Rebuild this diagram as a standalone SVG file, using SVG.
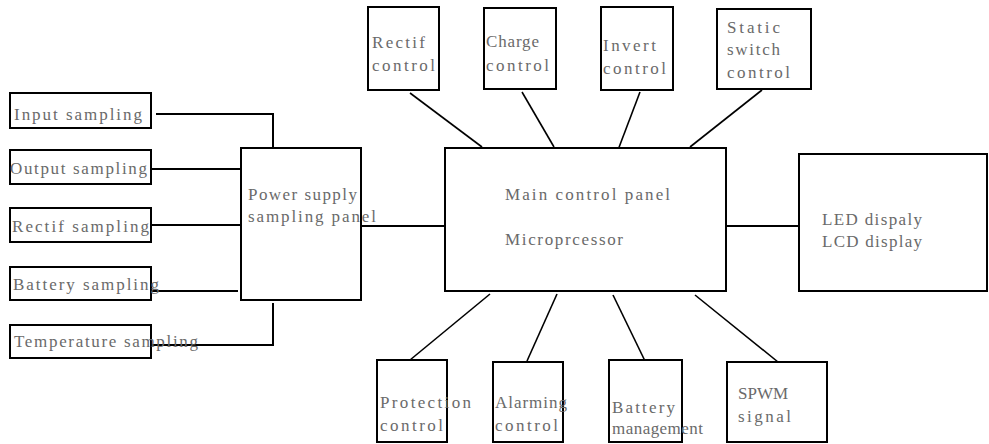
<svg xmlns="http://www.w3.org/2000/svg" width="989" height="444" viewBox="0 0 989 444">
<style>
.box{fill:#fff;stroke:#000;stroke-width:2}
.t{font-family:"Liberation Serif","DejaVu Serif",serif;font-size:17px;fill:#6a6a6a}
.c{fill:none;stroke:#000;stroke-width:2}
.d{fill:none;stroke:#000;stroke-width:1.6}
</style>
<rect width="989" height="444" fill="#fff"/>
<g id="connectors">
<polyline class="c" points="156,114 273,114 273,148"/>
<line class="c" x1="151" y1="169" x2="241" y2="169"/>
<line class="c" x1="151" y1="225" x2="241" y2="225"/>
<line class="c" x1="151" y1="291" x2="238" y2="291" stroke-width="1.5"/>
<polyline class="c" points="151,345 273,345 273,303" stroke-width="1.5"/>
<line class="c" x1="361" y1="226" x2="445" y2="226"/>
<line class="c" x1="726" y1="226" x2="799" y2="226"/>
<line class="d" x1="410" y1="93" x2="482" y2="147"/>
<line class="d" x1="522" y1="92" x2="554" y2="147"/>
<line class="d" x1="640" y1="92" x2="618" y2="150"/>
<line class="d" x1="762" y1="90" x2="690" y2="147"/>
<line class="d" x1="490" y1="294" x2="410" y2="360"/>
<line class="d" x1="557" y1="294" x2="527" y2="361"/>
<line class="d" x1="613" y1="295" x2="645" y2="361"/>
<line class="d" x1="695" y1="295" x2="778" y2="362"/>
</g>
<g id="input"><rect class="box" x="10" y="93" width="141" height="35"/><text class="t" x="14" y="120" textLength="128" lengthAdjust="spacing">Input sampling</text></g>
<g id="output"><rect class="box" x="10" y="150" width="141" height="34"/><text class="t" x="10" y="174" textLength="137" lengthAdjust="spacing">Output sampling</text></g>
<g id="rectif-s"><rect class="box" x="10" y="208" width="141" height="34"/><text class="t" x="12" y="232" textLength="137" lengthAdjust="spacing">Rectif sampling</text></g>
<g id="battery-s"><rect class="box" x="10" y="267" width="141" height="33"/><text class="t" x="13" y="290" textLength="146" lengthAdjust="spacing">Battery sampling</text></g>
<g id="temp-s"><rect class="box" x="10" y="325" width="141" height="33"/><text class="t" x="14" y="347" textLength="184" lengthAdjust="spacing">Temperature sampling</text></g>
<g id="power"><rect class="box" x="241" y="148" width="120" height="152"/><text class="t" x="248" y="200" textLength="109" lengthAdjust="spacing">Power supply</text><text class="t" x="248" y="222" textLength="128" lengthAdjust="spacing">sampling panel</text></g>
<g id="main"><rect class="box" x="445" y="148" width="281" height="143"/><text class="t" x="505" y="200" textLength="165" lengthAdjust="spacing">Main control panel</text><text class="t" x="505" y="245" textLength="118" lengthAdjust="spacing">Microprcessor</text></g>
<g id="display"><rect class="box" x="799" y="154" width="188" height="137"/><text class="t" x="822" y="225" textLength="100" lengthAdjust="spacing">LED dispaly</text><text class="t" x="822" y="247" textLength="100" lengthAdjust="spacing">LCD display</text></g>
<g id="rectif-c"><rect class="box" x="368" y="7" width="71" height="83"/><text class="t" x="372" y="48" textLength="53" lengthAdjust="spacing">Rectif</text><text class="t" x="372" y="71" textLength="63" lengthAdjust="spacing">control</text></g>
<g id="charge-c"><rect class="box" x="484" y="8" width="72" height="81"/><text class="t" x="486" y="47" textLength="53" lengthAdjust="spacing">Charge</text><text class="t" x="486" y="71" textLength="63" lengthAdjust="spacing">control</text></g>
<g id="invert-c"><rect class="box" x="601" y="7" width="72" height="83"/><text class="t" x="603" y="51" textLength="53" lengthAdjust="spacing">Invert</text><text class="t" x="603" y="74" textLength="63" lengthAdjust="spacing">control</text></g>
<g id="static-c"><rect class="box" x="717" y="9" width="94" height="80"/><text class="t" x="727" y="33" textLength="53" lengthAdjust="spacing">Static</text><text class="t" x="727" y="55" textLength="53" lengthAdjust="spacing">switch</text><text class="t" x="727" y="78" textLength="63" lengthAdjust="spacing">control</text></g>
<g id="protection"><rect class="box" x="377" y="360" width="70" height="82"/><text class="t" x="380" y="408" textLength="91" lengthAdjust="spacing">Protection</text><text class="t" x="380" y="431" textLength="63" lengthAdjust="spacing">control</text></g>
<g id="alarming"><rect class="box" x="493" y="362" width="70" height="80"/><text class="t" x="495" y="408" textLength="72" lengthAdjust="spacing">Alarming</text><text class="t" x="495" y="431" textLength="63" lengthAdjust="spacing">control</text></g>
<g id="battery-m"><rect class="box" x="609" y="360" width="73" height="82"/><text class="t" x="612" y="413" textLength="63" lengthAdjust="spacing">Battery</text><text class="t" x="612" y="434" textLength="91" lengthAdjust="spacing">management</text></g>
<g id="spwm"><rect class="box" x="727" y="362" width="100" height="80"/><text class="t" x="738" y="399">SPWM</text><text class="t" x="738" y="422" textLength="53" lengthAdjust="spacing">signal</text></g>
</svg>
